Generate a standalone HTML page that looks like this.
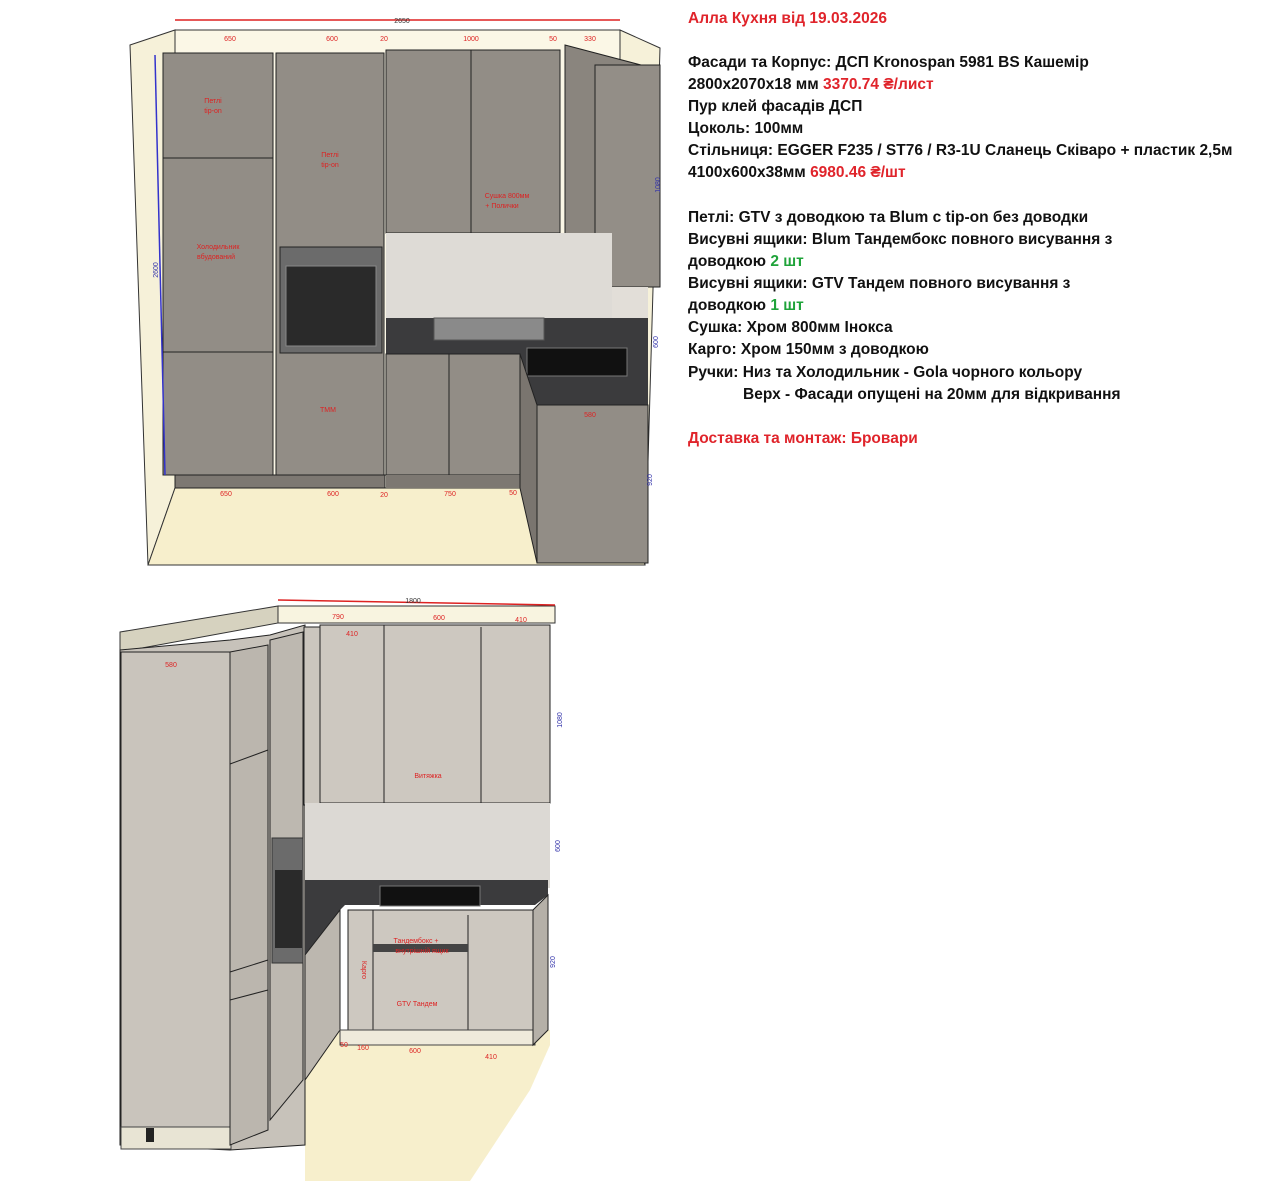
<!DOCTYPE html>
<html><head><meta charset="utf-8"><style>
html,body{margin:0;padding:0;background:#fff;width:1280px;height:1181px;overflow:hidden}
.t{position:absolute;left:688px;font-family:"Liberation Sans","DejaVu Sans",sans-serif;font-weight:bold;font-size:15.5px;color:#111;white-space:nowrap;line-height:22px}
.r{color:#e0242b}.g{color:#1fa33a}
</style></head><body>
<svg width="1280" height="1181" style="position:absolute;left:0;top:0" font-family="Liberation Sans,sans-serif">
<!-- TOP DRAWING -->
<polygon points="130,45 175,30 175,488 148,565" fill="#f6f1d9" stroke="#333" stroke-width="1"/>
<polygon points="620,30 660,48 645,565 620,488" fill="#f6f1d9" stroke="#333" stroke-width="1"/>
<rect x="175" y="30" width="445" height="458" fill="#fbf7e6" stroke="#333"/>
<polygon points="175,488 620,488 645,565 148,565" fill="#f7efcc" stroke="#333"/>
<rect x="163" y="53" width="110" height="422" fill="#928d86" stroke="#222"/>
<line x1="163" y1="158" x2="273" y2="158" stroke="#222"/>
<line x1="163" y1="352" x2="273" y2="352" stroke="#222"/>
<rect x="175" y="475" width="210" height="13" fill="#7d7872" stroke="#222"/>
<rect x="276" y="53" width="108" height="422" fill="#928d86" stroke="#222"/>
<rect x="280" y="247" width="102" height="106" fill="#6b6b6b" stroke="#222"/>
<rect x="286" y="266" width="90" height="80" fill="#2a2a2a" stroke="#888"/>
<rect x="386" y="50" width="174" height="183" fill="#928d86" stroke="#222"/>
<line x1="471" y1="50" x2="471" y2="233" stroke="#222"/>
<polygon points="565,45 660,70 660,285 595,287 565,250" fill="#8a857e" stroke="#222"/>
<rect x="595" y="65" width="65" height="222" fill="#938e87" stroke="#222"/>
<rect x="386" y="233" width="226" height="87" fill="#dedbd6"/>
<rect x="612" y="287" width="36" height="32" fill="#e2ded8"/>
<polygon points="386,318 612,318 648,318 648,405 537,405 520,354 386,354" fill="#3b3b3d"/>
<rect x="434" y="318" width="110" height="22" fill="#8a8a8a" stroke="#555"/>
<rect x="527" y="348" width="100" height="28" fill="#111" stroke="#777"/>
<rect x="386" y="354" width="134" height="121" fill="#928d86" stroke="#222"/>
<line x1="449" y1="354" x2="449" y2="475" stroke="#222"/>
<rect x="386" y="475" width="134" height="13" fill="#7d7872"/>
<rect x="537" y="405" width="111" height="158" fill="#928d86" stroke="#222"/>
<polygon points="520,354 537,405 537,563 520,488" fill="#7a756f" stroke="#222"/>
<line x1="175" y1="20" x2="620" y2="20" stroke="#d22" stroke-width="1.5"/>
<line x1="155" y1="55" x2="165" y2="475" stroke="#33c" stroke-width="1.5"/>
<g fill="#d22" font-size="7" text-anchor="middle">
<text x="402" y="23" fill="#333">2650</text>
<text x="230" y="41">650</text><text x="332" y="41">600</text><text x="384" y="41">20</text><text x="471" y="41">1000</text><text x="553" y="41">50</text><text x="590" y="41">330</text>
<text x="213" y="103">Петлі</text><text x="213" y="113">tip-on</text>
<text x="330" y="157">Петлі</text><text x="330" y="167">tip-on</text>
<text x="218" y="249">Холодильник</text><text x="216" y="259">вбудований</text>
<text x="507" y="198">Сушка 800мм</text><text x="502" y="208">+ Полички</text>
<text x="328" y="412">ТММ</text><text x="590" y="417">580</text>
<text x="226" y="496">650</text><text x="333" y="496">600</text><text x="384" y="497">20</text><text x="450" y="496">750</text><text x="513" y="495">50</text>
</g>
<g fill="#33a" font-size="7" text-anchor="middle">
<text transform="translate(660,185) rotate(-90)">1080</text>
<text transform="translate(158,270) rotate(-90)">2600</text>
<text transform="translate(658,342) rotate(-90)">600</text>
<text transform="translate(652,480) rotate(-90)">920</text>
</g>
<!-- BOTTOM DRAWING -->
<polygon points="120,632 278,606 278,623 120,652" fill="#d6d2bf" stroke="#333"/>
<rect x="278" y="606" width="277" height="17" fill="#f8f4e0" stroke="#333"/>
<polygon points="340,1030 550,1030 550,1045 530,1090 470,1181 305,1181 305,1080" fill="#f7efcc"/>
<polygon points="120,650 230,640 270,635 305,625 305,1145 230,1150 120,1145" fill="#c7c2ba" stroke="#222"/>
<rect x="121" y="652" width="110" height="475" fill="#c9c4bc" stroke="#222"/>
<rect x="121" y="1127" width="110" height="22" fill="#e8e4d4" stroke="#444"/>
<rect x="146" y="1128" width="8" height="14" fill="#222"/>
<polygon points="230,652 268,645 268,1130 230,1145" fill="#bbb6ae" stroke="#222"/>
<line x1="230" y1="764" x2="268" y2="750" stroke="#222"/><line x1="230" y1="972" x2="268" y2="960" stroke="#222"/><line x1="230" y1="1000" x2="268" y2="990" stroke="#222"/>
<polygon points="270,640 303,632 303,1080 270,1120" fill="#bdb8b0" stroke="#222"/>
<rect x="272" y="838" width="31" height="125" fill="#6b6b6b" stroke="#333"/>
<rect x="275" y="870" width="27" height="78" fill="#2a2a2a"/>
<rect x="304" y="627" width="18" height="178" fill="#cbc6be" stroke="#222"/>
<rect x="320" y="625" width="230" height="178" fill="#cdc8c0" stroke="#222"/>
<line x1="384" y1="625" x2="384" y2="803" stroke="#222"/><line x1="481" y1="627" x2="481" y2="803" stroke="#222"/>
<rect x="305" y="803" width="245" height="85" fill="#dcd9d4"/>
<polygon points="305,880 360,880 378,880 548,880 548,895 535,905 345,905 340,910 305,960" fill="#3b3b3d"/>
<rect x="380" y="886" width="100" height="20" fill="#111" stroke="#777"/>
<polygon points="305,955 340,910 340,1030 305,1080" fill="#bcb7af" stroke="#222"/>
<rect x="348" y="910" width="185" height="120" fill="#cdc8c0" stroke="#222"/>
<line x1="373" y1="910" x2="373" y2="1030" stroke="#222"/><line x1="468" y1="915" x2="468" y2="1030" stroke="#222"/>
<rect x="373" y="944" width="95" height="8" fill="#444"/>
<rect x="340" y="1030" width="195" height="15" fill="#efeadb" stroke="#444"/>
<polygon points="533,910 548,895 548,1030 533,1045" fill="#b5b0a8" stroke="#222"/>
<line x1="278" y1="600" x2="555" y2="605" stroke="#d22" stroke-width="1.5"/>
<g fill="#d22" font-size="7" text-anchor="middle">
<text x="413" y="603" fill="#333">1800</text>
<text x="338" y="619">790</text><text x="439" y="620">600</text><text x="521" y="622">410</text>
<text x="352" y="636">410</text><text x="171" y="667">580</text>
<text x="428" y="778">Витяжка</text>
<text x="416" y="943">Тандембокс +</text><text x="422" y="953">внутрішній ящик</text>
<text x="417" y="1006">GTV Тандем</text>
<text transform="translate(362,970) rotate(90)">Карго</text>
<text x="344" y="1047">50</text><text x="363" y="1050">160</text><text x="415" y="1053">600</text><text x="491" y="1059">410</text>
</g>
<g fill="#33a" font-size="7" text-anchor="middle">
<text transform="translate(562,720) rotate(-90)">1080</text>
<text transform="translate(560,846) rotate(-90)">600</text>
<text transform="translate(555,962) rotate(-90)">920</text>
</g>
</svg>
<div class="t r" style="top:8px">Алла Кухня від 19.03.2026</div>
<div class="t" style="top:52px">Фасади та Корпус: ДСП Kronospan 5981 BS Кашемір</div>
<div class="t" style="top:74px">2800x2070x18 мм <span class="r">3370.74 ₴/лист</span></div>
<div class="t" style="top:96px">Пур клей фасадів ДСП</div>
<div class="t" style="top:118px">Цоколь: 100мм</div>
<div class="t" style="top:140px">Стільниця: EGGER F235 / ST76 / R3-1U Сланець Сківаро + пластик 2,5м</div>
<div class="t" style="top:162px">4100x600x38мм <span class="r">6980.46 ₴/шт</span></div>
<div class="t" style="top:207px">Петлі: GTV з доводкою та Blum с tip-on без доводки</div>
<div class="t" style="top:229px">Висувні ящики: Blum Тандембокс повного висування з</div>
<div class="t" style="top:251px">доводкою <span class="g">2 шт</span></div>
<div class="t" style="top:273px">Висувні ящики: GTV Тандем повного висування з</div>
<div class="t" style="top:295px">доводкою <span class="g">1 шт</span></div>
<div class="t" style="top:317px">Сушка: Хром 800мм Інокса</div>
<div class="t" style="top:339px">Карго: Хром 150мм з доводкою</div>
<div class="t" style="top:362px">Ручки: Низ та Холодильник - Gola чорного кольору</div>
<div class="t" style="top:384px;left:743px">Верх - Фасади опущені на 20мм для відкривання</div>
<div class="t r" style="top:428px">Доставка та монтаж: Бровари</div>
</body></html>
